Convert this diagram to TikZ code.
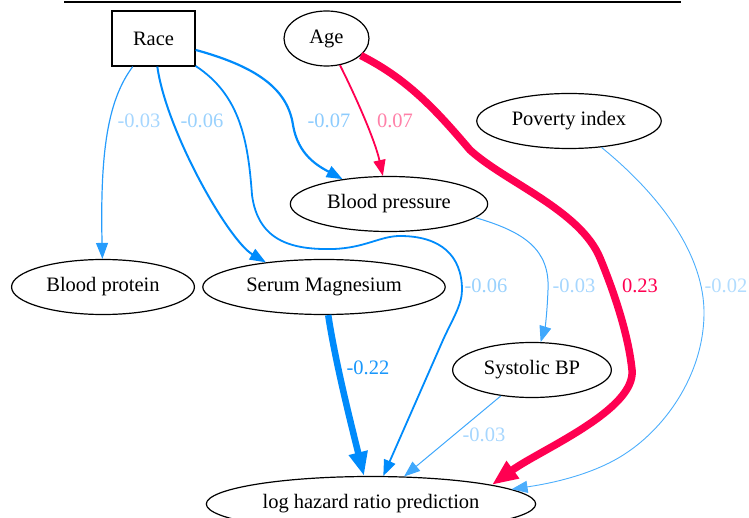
\documentclass[tikz,border=0pt]{standalone}
\usepackage{fontspec}
\setmainfont{Liberation Serif}
\usetikzlibrary{arrows.meta,shapes.geometric}
\definecolor{shapblue}{RGB}{0,139,251}
\definecolor{shapred}{RGB}{255,0,81}

\begin{document}
\begin{tikzpicture}[
  x=1pt, y=-1pt,
  arr/.style={-{Triangle[length=16pt,width=12pt]}, line width=1pt, shapblue},
  fatblue/.style={-{Triangle[length=24pt,width=18pt]}, line width=6.5pt, shapblue},
  fatred/.style={-{Triangle[length=26pt,width=20pt]}, line width=7.5pt, shapred},
  var/.style={draw, ellipse, line width=1.2pt, inner xsep=8pt, inner ysep=4pt,
    minimum height=55pt, minimum width=85pt,
    font=\fontsize{20.5}{24}\selectfont},
  sqvar/.style={draw, rectangle, line width=1.2pt, minimum width=83pt,
    minimum height=55pt, font=\fontsize{20.5}{24}\selectfont},
  wlab/.style={inner sep=0pt, font=\fontsize{20.5}{24}\selectfont},
]
\useasboundingbox (0,0) rectangle (749,518);
\clip (0,0) rectangle (749,518);

% ── frame edge at the top ───────────────────────────────────────────────────
\draw[line width=2pt] (64,2) -- (681,2);

% ── top row: inputs ─────────────────────────────────────────────────────────
\node[sqvar] (race)    at (153.5,38.5) {Race};
\node[var]   (age)     at (326.5,38.5) {Age};
\node[var]   (poverty) at (569,121)    {Poverty index};

% ── middle rows ─────────────────────────────────────────────────────────────
\node[var] (bpress) at (389,204) {Blood pressure};
\node[var] (bprot)  at (103,287) {Blood protein};
\node[var] (serum)  at (324,287) {Serum Magnesium};
\node[var] (systbp) at (532,370) {Systolic BP};

% ── bottom: model output ────────────────────────────────────────────────────
\node[var] (loghr) at (371,504) {log hazard ratio prediction};

% ── edges out of Race ───────────────────────────────────────────────────────
\draw[arr, line width=1.2pt, shapblue!85] (race) .. controls (108,100) and (100,150) .. (bprot);
\draw[arr, line width=2pt] (race) .. controls (166,130) and (228,240) .. (serum.157);
\draw[arr, line width=2.2pt] (race) .. controls (262,68) and (288,92) .. (293,125)
  .. controls (298,155) and (318,166) .. (bpress);
\draw[arr, line width=1.8pt] (race) .. controls (240,95) and (248,140) .. (252,195)
  .. controls (258,240) and (290,250) .. (333,249)
  .. controls (365,248) and (380,236) .. (400,236)
  .. controls (440,236) and (462,255) .. (462,290)
  .. controls (462,305) and (452,320) .. (443,340) -- (loghr);

% ── edges out of Age ────────────────────────────────────────────────────────
\draw[arr, line width=1.8pt, shapred] (age) .. controls (355,95) and (375,140) .. (bpress);
\draw[fatred] (age) .. controls (410,80) and (440,115) .. (470,150)
  .. controls (505,182) and (580,210) .. (600,258)
  .. controls (610,282) and (628,330) .. (632,370)
  .. controls (636,410) and (540,450) .. (loghr.9);

% ── remaining edges ─────────────────────────────────────────────────────────
\draw[arr, line width=0.9pt, shapblue!70] (poverty) .. controls (660,195) and (705,255) .. (704,315)
  .. controls (703,375) and (665,430) .. (620,457)
  .. controls (585,478) and (540,485) .. (loghr.6);
\draw[arr, shapblue!75] (bpress.-9) .. controls (525,232) and (550,250) .. (548,290)
  .. controls (547,315) and (545,328) .. (systbp);
\draw[fatblue] (serum) .. controls (335,360) and (350,420) .. (loghr);
\draw[arr, shapblue!75] (systbp) -- (loghr);

% ── edge weights ────────────────────────────────────────────────────────────
\node[wlab, text=shapblue!35] (wprot)   at (139,121) {-0.03};
\node[wlab, text=shapblue!40] (wserum)  at (202,121) {-0.06};
\node[wlab, text=shapblue!45] (wbpress) at (329,121) {-0.07};
\node[wlab, text=shapred!50]  (wage)    at (395,121) {0.07};
\node[wlab, text=shapblue!40] (wrace)   at (486,286) {-0.06};
\node[wlab, text=shapblue!35] (wsyst)   at (574,286) {-0.03};
\node[wlab, text=shapred]     (wagehr)  at (640,286) {0.23};
\node[wlab, text=shapblue!30] (wpov)    at (726,286) {-0.02};
\node[wlab, text=shapblue!90] (wmag)    at (368,368) {-0.22};
\node[wlab, text=shapblue!35] (wsysthr) at (484,435) {-0.03};
\end{tikzpicture}
\end{document}
